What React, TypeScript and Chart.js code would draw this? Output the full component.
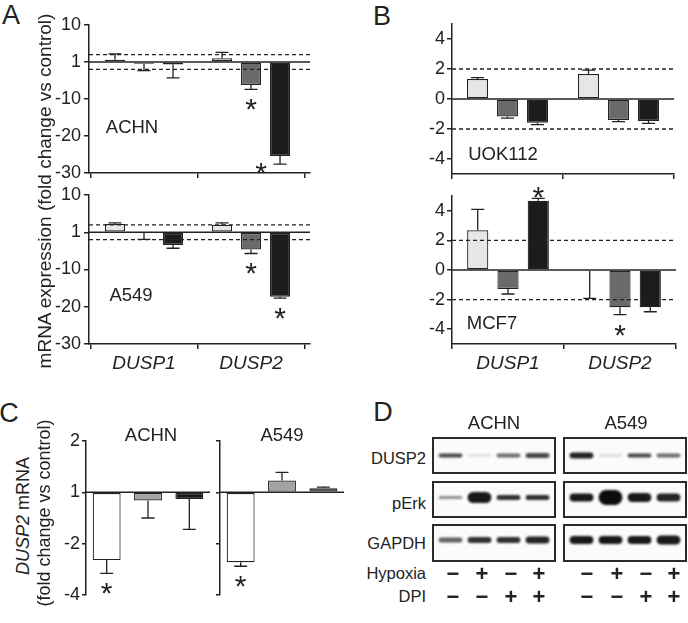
import React, { useEffect, useRef } from 'react';
import { Chart, registerables } from 'chart.js';

Chart.register(...registerables);

const FONT = '"Liberation Sans", Arial, Helvetica, sans-serif';
const INK = '#222222';

// ---------------- DATA ----------------
const genes = ['DUSP1', 'DUSP2'];
const seriesNames = ['Treatment 1', 'Treatment 2', 'Treatment 3'];
const colorsAB = ['#e6e6e6', '#6a6a6a', '#1c1c1c'];

// Panel A – mRNA fold change (axis value 0 is labelled "1")
const aTicks = [-30, -20, -10, 0, 10];
const aTickLabels = ['-30', '-20', '-10', '1', '10'];
const foldThresholds = [2, -2];

const achnA1 = [0.6, 1.0];
const achnA1Err = [1.6, 1.6];
const achnA2 = [-0.45, -6.2];
const achnA2Err = [1.9, 1.2];
const achnA3 = [-0.7, -25.4];
const achnA3Err = [3.6, 2.2];
const achnAStar2 = [false, true];
const achnAStar3 = [false, true];

const a549A1 = [2.2, 2.0];
const a549A1Err = [0.3, 0.5];
const a549A2 = [-0.1, -4.6];
const a549A2Err = [1.8, 1.1];
const a549A3 = [-3.4, -17.3];
const a549A3Err = [0.9, 0.4];
const a549AStar2 = [false, true];
const a549AStar3 = [false, true];

// Panel B
const bTicks = [-4, -2, 0, 2, 4];
const bTickLabels = ['-4', '-2', '0', '2', '4'];

const uokB1 = [1.33, 1.67];
const uokB1Err = [0.1, 0.26];
const uokB2 = [-1.16, -1.4];
const uokB2Err = [0.11, 0.11];
const uokB3 = [-1.58, -1.47];
const uokB3Err = [0.13, 0.15];

const mcfB1 = [2.68, -0.05];
const mcfB1Err = [1.42, 1.87];
const mcfB2 = [-1.28, -2.52];
const mcfB2Err = [0.34, 0.5];
const mcfB3 = [4.68, -2.52];
const mcfB3Err = [0.16, 0.3];
const mcfBStar2 = [false, true];
const mcfBStar3 = [true, false];

// Panel C – DUSP2 mRNA (log2 positions; labels show fold change)
const conditions = ['Hypoxia', 'DPI', 'Hypoxia + DPI'];
const cTicks = [-2, -1, 0, 1];
const cTickLabels = ['-4', '-2', '1', '2'];
const colorsC = ['#ffffff', '#a3a3a3', '#151515'];
const achnC = [-1.32, -0.16, -0.13];
const achnCErr = [0.26, 0.34, 0.59];
const achnCStar = [true, false, false];
const a549C = [-1.36, 0.23, 0.08];
const a549CErr = [0.08, 0.16, 0.02];
const a549CStar = [true, false, false];

// Panel D – western blot band strength (thickness, darkness) per lane
const lanes = ['1', '2', '3', '4'];
const hypoxia = [false, true, false, true];
const dpi = [false, false, true, true];
const achnDusp2Thick = [4, 3, 4, 5];
const achnDusp2Dark = [0.75, 0.1, 0.6, 0.75];
const achnPerkThick = [3, 11, 5, 5];
const achnPerkDark = [0.45, 0.95, 0.85, 0.85];
const achnGapdhThick = [5, 6, 6, 7];
const achnGapdhDark = [0.65, 0.85, 0.85, 0.9];
const a549Dusp2Thick = [6, 3, 4, 4];
const a549Dusp2Dark = [0.9, 0.12, 0.75, 0.6];
const a549PerkThick = [8, 15, 9, 8];
const a549PerkDark = [0.95, 1, 0.95, 0.9];
const a549GapdhThick = [8, 8, 8, 9];
const a549GapdhDark = [0.95, 0.95, 0.95, 0.95];

// ---------------- HELPERS ----------------
type Series = { name: string; values: number[]; errors: number[]; stars: boolean[]; color: string | string[] };
type Area = { L: number; T: number; R: number; B: number };
type Pad = { l: number; t: number; r: number; b: number };
type Spec = {
  cats: string[];
  series: Series[];
  xLinear: boolean;
  xMin?: number;
  xMax?: number;
  showX: boolean;
  xLabels: boolean;
  yMin: number;
  yMax: number;
  yTicks: number[];
  yTickLabels: string[] | null;
  tickLen: number;
  tickPad: number;
  dashed: number[];
  catPct: number;
  barPct: number;
  area: Area;
  Wy: number;
  Hx: number;
  pad: Pad;
};

function rectOf(s: Spec) {
  const x = s.area.L - s.Wy - s.pad.l;
  const y = s.area.T - s.pad.t;
  return { x, y, w: s.area.R + s.pad.r - x, h: s.area.B + s.Hx + s.pad.b - y };
}

function decorPlugin(spec: Spec) {
  return {
    id: 'decor',
    afterDatasetsDraw(chart: any) {
      const { ctx, chartArea: ca } = chart;
      const y = chart.scales.y;
      ctx.save();
      ctx.strokeStyle = INK;
      ctx.lineWidth = 1.5;
      const y0 = y.getPixelForValue(0);
      ctx.beginPath();
      ctx.moveTo(ca.left, y0);
      ctx.lineTo(ca.right, y0);
      ctx.stroke();
      ctx.lineWidth = 1.3;
      ctx.setLineDash([4, 3]);
      spec.dashed.forEach((v) => {
        const py = y.getPixelForValue(v);
        ctx.beginPath();
        ctx.moveTo(ca.left, py);
        ctx.lineTo(ca.right, py);
        ctx.stroke();
      });
      ctx.setLineDash([]);
      spec.series.forEach((s, di) => {
        const meta = chart.getDatasetMeta(di);
        meta.data.forEach((el: any, i: number) => {
          const v = s.values[i];
          const e = s.errors[i];
          const yEnd = y.getPixelForValue(v >= 0 ? v + e : v - e);
          ctx.lineWidth = 1.3;
          ctx.beginPath();
          ctx.moveTo(el.x, el.y);
          ctx.lineTo(el.x, yEnd);
          ctx.moveTo(el.x - 6.5, yEnd);
          ctx.lineTo(el.x + 6.5, yEnd);
          ctx.stroke();
          if (s.stars[i]) {
            const fs = 30;
            let sx = el.x;
            let sy = v >= 0 ? yEnd - 9 : yEnd + 12;
            if (v < 0 && sy + 6 > ca.bottom) {
              sx = el.x - el.width / 2 - 9;
              sy = yEnd + 1;
            }
            ctx.font = `${fs}px ${FONT}`;
            ctx.textAlign = 'center';
            ctx.textBaseline = 'alphabetic';
            ctx.fillStyle = INK;
            ctx.fillText('*', sx, sy + 0.6 * fs);
          }
        });
      });
      ctx.restore();
    },
  };
}

function barConfig(spec: Spec): any {
  const datasets = spec.series.map((s) => ({
    label: s.name,
    data: spec.xLinear ? s.values.map((v, i) => ({ x: i, y: v })) : s.values,
    backgroundColor: s.color,
    borderColor: INK,
    borderWidth: 1.2,
    borderSkipped: false,
    categoryPercentage: spec.catPct,
    barPercentage: spec.barPct,
  }));
  const xScale: any = {
    type: spec.xLinear ? 'linear' : 'category',
    display: spec.showX,
    offset: !spec.xLinear,
    ticks: {
      display: spec.xLabels,
      autoSkip: false,
      maxRotation: 0,
      padding: 3,
      color: INK,
      font: { family: FONT, size: 19, style: 'italic' },
      callback: (v: any, i: number) => spec.cats[i] ?? '',
    },
    grid: { display: true, drawOnChartArea: false, drawTicks: true, tickLength: 5, color: INK, lineWidth: 1.5 },
    border: { display: true, color: INK, width: 1.5 },
    afterFit: (sc: any) => {
      sc.height = spec.Hx;
      sc.paddingLeft = 0;
      sc.paddingRight = 0;
    },
  };
  if (spec.xLinear) {
    xScale.min = spec.xMin;
    xScale.max = spec.xMax;
    xScale.afterBuildTicks = (sc: any) => {
      sc.ticks = spec.cats.map((_, i) => ({ value: i }));
    };
  }
  return {
    type: 'bar',
    data: { labels: spec.cats, datasets },
    options: {
      animation: false,
      responsive: false,
      devicePixelRatio: 1,
      layout: { padding: { left: spec.pad.l, top: spec.pad.t, right: spec.pad.r, bottom: spec.pad.b } },
      plugins: { legend: { display: false }, tooltip: { enabled: false } },
      scales: {
        x: xScale,
        y: {
          type: 'linear',
          min: spec.yMin,
          max: spec.yMax,
          afterBuildTicks: (sc: any) => {
            sc.ticks = spec.yTicks.map((v) => ({ value: v }));
          },
          ticks: {
            display: !!spec.yTickLabels,
            padding: spec.tickPad,
            color: INK,
            font: { family: FONT, size: 18 },
            callback: (v: any) => (spec.yTickLabels ? spec.yTickLabels[spec.yTicks.indexOf(v)] : ''),
          },
          grid: { drawOnChartArea: false, drawTicks: true, tickLength: spec.tickLen, color: INK, lineWidth: 1.5 },
          border: { display: true, color: INK, width: 1.5 },
          afterFit: (sc: any) => {
            sc.width = spec.Wy;
            sc.paddingTop = 0;
            sc.paddingBottom = 0;
          },
        },
      },
    },
    plugins: [decorPlugin(spec)],
  };
}

function blotConfig(thick: number[], dark: number[], h: number, shift: number): any {
  return {
    type: 'bar',
    data: {
      labels: lanes,
      datasets: [
        {
          data: thick.map((t) => [-t / 2, t / 2]),
          backgroundColor: dark.map((a) => `rgba(12,12,12,${a})`),
          borderWidth: 0,
          borderRadius: 20,
          borderSkipped: false,
          categoryPercentage: 1,
          barPercentage: 0.82,
        },
      ],
    },
    options: {
      animation: false,
      responsive: false,
      devicePixelRatio: 1,
      layout: { padding: { left: 4, right: 4, top: 0, bottom: 0 } },
      plugins: { legend: { display: false }, tooltip: { enabled: false } },
      scales: { x: { display: false }, y: { display: false, min: -h / 2 - shift, max: h / 2 - shift } },
    },
    plugins: [
      {
        id: 'blot',
        beforeDraw(chart: any) {
          const { ctx, width, height } = chart;
          ctx.save();
          ctx.fillStyle = '#fbfbfb';
          ctx.fillRect(0, 0, width, height);
          ctx.restore();
        },
        beforeDatasetsDraw(chart: any) {
          chart.ctx.save();
          chart.ctx.filter = 'blur(0.9px)';
        },
        afterDatasetsDraw(chart: any) {
          chart.ctx.restore();
        },
        afterDraw(chart: any) {
          const { ctx, width, height } = chart;
          ctx.save();
          ctx.strokeStyle = '#2a2a2a';
          ctx.lineWidth = 2;
          ctx.strokeRect(1, 1, width - 2, height - 2);
          ctx.restore();
        },
      },
    ],
  };
}

function ChartBox({ rect, config }: { rect: { x: number; y: number; w: number; h: number }; config: any }) {
  const ref = useRef<HTMLCanvasElement>(null);
  useEffect(() => {
    const chart = new Chart(ref.current as HTMLCanvasElement, config);
    return () => chart.destroy();
  }, []);
  return (
    <canvas
      ref={ref}
      width={rect.w}
      height={rect.h}
      style={{ position: 'absolute', left: rect.x, top: rect.y, width: rect.w, height: rect.h }}
    />
  );
}

function T(props: { x: number; y: number; children: any; size?: number; anchor?: string; italic?: boolean; weight?: number; rotate?: boolean }) {
  const { x, y, children, size = 18.5, anchor = 'center', italic, weight, rotate } = props;
  const tx = anchor === 'center' ? '-50%' : anchor === 'right' ? '-100%' : '0';
  return (
    <div
      style={{
        position: 'absolute',
        left: x,
        top: y,
        transform: `translate(${tx}, -50%)${rotate ? ' rotate(-90deg)' : ''}`,
        fontFamily: FONT,
        fontSize: size,
        lineHeight: 1,
        color: INK,
        whiteSpace: 'nowrap',
        fontStyle: italic ? 'italic' : 'normal',
        fontWeight: weight ?? 400,
      }}
    >
      {children}
    </div>
  );
}

function abSeries(v: number[][], e: number[][], st: boolean[][]): Series[] {
  return v.map((vals, i) => ({ name: seriesNames[i], values: vals, errors: e[i], stars: st[i], color: colorsAB[i] }));
}

const none = [false, false];

const specATop: Spec = {
  cats: genes,
  series: abSeries([achnA1, achnA2, achnA3], [achnA1Err, achnA2Err, achnA3Err], [none, achnAStar2, achnAStar3]),
  xLinear: true, xMin: -0.514, xMax: 1.551,
  showX: true, xLabels: false,
  yMin: -30, yMax: 10, yTicks: aTicks, yTickLabels: aTickLabels,
  tickLen: 5, tickPad: 3, dashed: foldThresholds,
  catPct: 0.813, barPct: 0.69,
  area: { L: 89, T: 25, R: 310, B: 173 }, Wy: 40, Hx: 10, pad: { l: 0, t: 12, r: 6, b: 2 },
};
const specABot: Spec = {
  ...specATop,
  series: abSeries([a549A1, a549A2, a549A3], [a549A1Err, a549A2Err, a549A3Err], [none, a549AStar2, a549AStar3]),
  xLabels: true,
  area: { L: 89, T: 195, R: 310, B: 344 }, Hx: 30,
};
const specBTop: Spec = {
  cats: genes,
  series: abSeries([uokB1, uokB2, uokB3], [uokB1Err, uokB2Err, uokB3Err], [none, none, none]),
  xLinear: true, xMin: -0.5, xMax: 1.5,
  showX: true, xLabels: false,
  yMin: -5, yMax: 5, yTicks: bTicks, yTickLabels: bTickLabels,
  tickLen: 5, tickPad: 2, dashed: foldThresholds,
  catPct: 0.811, barPct: 0.7,
  area: { L: 452, T: 24, R: 674, B: 174 }, Wy: 32, Hx: 10, pad: { l: 0, t: 12, r: 6, b: 2 },
};
const specBBot: Spec = {
  ...specBTop,
  series: abSeries([mcfB1, mcfB2, mcfB3], [mcfB1Err, mcfB2Err, mcfB3Err], [none, mcfBStar2, mcfBStar3]),
  xLabels: true,
  area: { L: 452, T: 196, R: 676, B: 344 }, Hx: 30,
};
const specCAchn: Spec = {
  cats: conditions,
  series: [{ name: 'ACHN', values: achnC, errors: achnCErr, stars: achnCStar, color: colorsC }],
  xLinear: false,
  showX: false, xLabels: false,
  yMin: -2, yMax: 1, yTicks: cTicks, yTickLabels: cTickLabels,
  tickLen: 4, tickPad: 2, dashed: [],
  catPct: 1, barPct: 0.675,
  area: { L: 86, T: 441, R: 210, B: 595 }, Wy: 32, Hx: 0, pad: { l: 0, t: 12, r: 2, b: 12 },
};
const specCA549: Spec = {
  ...specCAchn,
  series: [{ name: 'A549', values: a549C, errors: a549CErr, stars: a549CStar, color: colorsC }],
  yTickLabels: null,
  area: { L: 220, T: 441, R: 344, B: 595 }, Wy: 6, pad: { l: 0, t: 12, r: 2, b: 12 },
};

const blotCols = [
  { name: 'ACHN', x: 432, rows: [[achnDusp2Thick, achnDusp2Dark], [achnPerkThick, achnPerkDark], [achnGapdhThick, achnGapdhDark]], signX: [453, 482, 511, 539] },
  { name: 'A549', x: 563, rows: [[a549Dusp2Thick, a549Dusp2Dark], [a549PerkThick, a549PerkDark], [a549GapdhThick, a549GapdhDark]], signX: [587, 617, 646, 674] },
];
const blotRows = [
  { name: 'DUSP2', y: 437, h: 37, ly: 458, shift: 0 },
  { name: 'pErk', y: 481, h: 37, ly: 503, shift: 2 },
  { name: 'GAPDH', y: 524, h: 38, ly: 543, shift: 3 },
];

export default function App() {
  const specs = [specATop, specABot, specBTop, specBBot, specCAchn, specCA549];
  return (
    <div style={{ position: 'fixed', left: 0, top: 0, width: 688, height: 623, background: '#fff', overflow: 'hidden' }}>
      {specs.map((s, i) => (
        <ChartBox key={i} rect={rectOf(s)} config={barConfig(s)} />
      ))}
      {blotCols.map((c) =>
        blotRows.map((r, ri) => (
          <ChartBox
            key={c.name + r.name}
            rect={{ x: c.x, y: r.y, w: 124, h: r.h }}
            config={blotConfig(c.rows[ri][0], c.rows[ri][1], r.h, r.shift)}
          />
        ))
      )}

      {/* panel letters */}
      <T x={11} y={15} size={27}>A</T>
      <T x={382} y={16} size={27}>B</T>
      <T x={9} y={413} size={27}>C</T>
      <T x={383} y={412} size={27}>D</T>

      {/* panel A */}
      <T x={44} y={191} size={19} rotate>mRNA expression (fold change vs control)</T>
      <T x={132} y={127}>ACHN</T>
      <T x={131} y={295}>A549</T>

      {/* panel B */}
      <T x={503} y={154}>UOK112</T>
      <T x={492} y={323}>MCF7</T>

      {/* panel C */}
      <T x={23} y={516} size={18} rotate><i>DUSP2</i> mRNA</T>
      <T x={44} y={513} size={18} rotate>(fold change vs control)</T>
      <T x={151} y={435}>ACHN</T>
      <T x={282} y={435}>A549</T>

      {/* panel D */}
      <T x={494} y={423}>ACHN</T>
      <T x={626} y={423}>A549</T>
      {blotRows.map((r) => (
        <T key={r.name} x={426} y={r.ly} size={16.5} anchor="right">{r.name}</T>
      ))}
      <T x={426} y={573} size={16.5} anchor="right">Hypoxia</T>
      <T x={426} y={596} size={16.5} anchor="right">DPI</T>
      {blotCols.map((c) =>
        c.signX.map((sx, i) => (
          <React.Fragment key={c.name + i}>
            <T x={sx} y={574} size={22} weight={700}>{hypoxia[i] ? '+' : '\u2212'}</T>
            <T x={sx} y={597} size={22} weight={700}>{dpi[i] ? '+' : '\u2212'}</T>
          </React.Fragment>
        ))
      )}
    </div>
  );
}
